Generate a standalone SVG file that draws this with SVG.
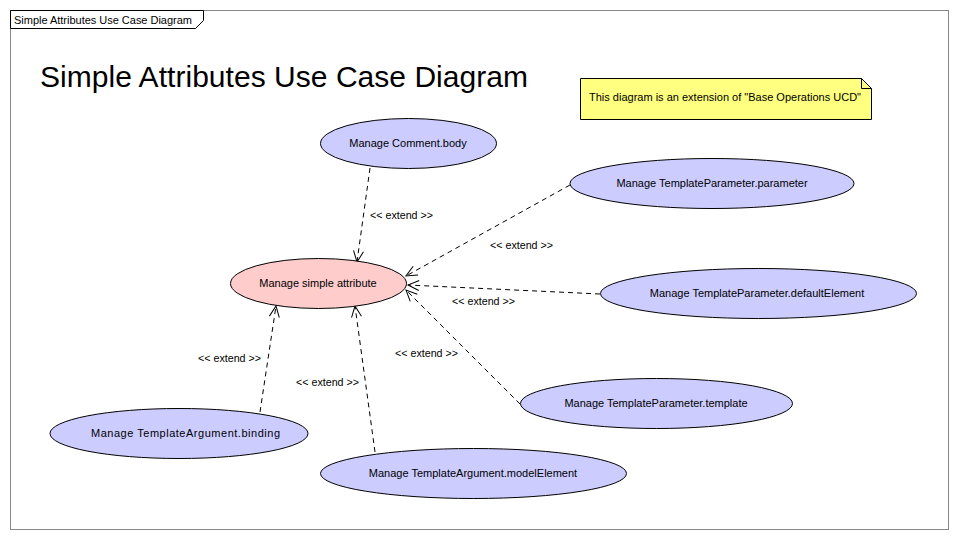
<svg xmlns="http://www.w3.org/2000/svg" width="958" height="539" viewBox="0 0 958 539">
<style>
text{font-family:"Liberation Sans",Arial,sans-serif;fill:#000}
.uc{fill:#ccccff;stroke:#000;stroke-width:1}
.lbl{font-size:11px;text-anchor:middle}
.ext{font-size:10.7px}
.dep{stroke:#000;stroke-width:1;stroke-dasharray:5,4;fill:none;marker-end:url(#open)}
</style>
<defs>
<marker id="open" markerWidth="14" markerHeight="14" refX="12" refY="7" orient="auto" markerUnits="userSpaceOnUse">
<path d="M1,2 L12,7 L1,12" fill="none" stroke="#000" stroke-width="1"/>
</marker>
</defs>
<rect x="0" y="0" width="958" height="539" fill="#fff"/>
<g id="frame">
<rect x="10.5" y="10.5" width="938" height="519" fill="none" stroke="#888" stroke-width="1"/>
<path d="M10.5,10.5 H203.5 V20.5 L195.5,28.5 H10.5 Z" fill="#fff" stroke="#000" stroke-width="1"/>
<text x="14" y="23.5" font-size="11" textLength="178">Simple Attributes Use Case Diagram</text>
</g>
<text id="title" x="40" y="87" font-size="30" textLength="488">Simple Attributes Use Case Diagram</text>
<g id="note">
<path d="M580.5,78.5 H861.5 L871.5,88.5 V119.5 H580.5 Z" fill="#ffff80" stroke="#000" stroke-width="1"/>
<path d="M861.5,78.5 V88.5 H871.5" fill="none" stroke="#000" stroke-width="1"/>
<text x="589" y="101" font-size="11" textLength="272">This diagram is an extension of "Base Operations UCD"</text>
</g>
<g id="connectors">
<line class="dep" x1="370" y1="168" x2="357" y2="262"/>
<line class="dep" x1="570" y1="185" x2="406" y2="276"/>
<line class="dep" x1="600" y1="294" x2="408" y2="285"/>
<line class="dep" x1="520" y1="404" x2="406" y2="290"/>
<line class="dep" x1="260" y1="412" x2="276" y2="306"/>
<line class="dep" x1="375" y1="452" x2="355" y2="306"/>
<text class="ext" x="370" y="219">&lt;&lt; extend &gt;&gt;</text>
<text class="ext" x="490" y="249">&lt;&lt; extend &gt;&gt;</text>
<text class="ext" x="452" y="305">&lt;&lt; extend &gt;&gt;</text>
<text class="ext" x="395" y="357">&lt;&lt; extend &gt;&gt;</text>
<text class="ext" x="198" y="362">&lt;&lt; extend &gt;&gt;</text>
<text class="ext" x="296" y="386">&lt;&lt; extend &gt;&gt;</text>
</g>
<g id="simple">
<ellipse cx="318.5" cy="283.5" rx="88" ry="25" fill="#ffcccc" stroke="#000"/>
<text class="lbl" x="318" y="287">Manage simple attribute</text>
</g>
<g id="commentBody">
<ellipse class="uc" cx="408.5" cy="143.5" rx="88" ry="25"/>
<text class="lbl" x="408" y="147">Manage Comment.body</text>
</g>
<g id="tpParameter">
<ellipse class="uc" cx="712" cy="183.5" rx="142" ry="25"/>
<text class="lbl" x="712" y="187">Manage TemplateParameter.parameter</text>
</g>
<g id="tpDefault">
<ellipse class="uc" cx="758.5" cy="293.5" rx="158" ry="25"/>
<text class="lbl" x="757" y="297">Manage TemplateParameter.defaultElement</text>
</g>
<g id="tpTemplate">
<ellipse class="uc" cx="656.5" cy="403.5" rx="136" ry="25"/>
<text class="lbl" x="656" y="407">Manage TemplateParameter.template</text>
</g>
<g id="taBinding">
<ellipse class="uc" cx="179" cy="433.5" rx="129" ry="25"/>
<text class="lbl" x="185.5" y="437" textLength="189">Manage TemplateArgument.binding</text>
</g>
<g id="taModel">
<ellipse class="uc" cx="473.5" cy="473.5" rx="153" ry="25"/>
<text class="lbl" x="473" y="477">Manage TemplateArgument.modelElement</text>
</g>
</svg>
